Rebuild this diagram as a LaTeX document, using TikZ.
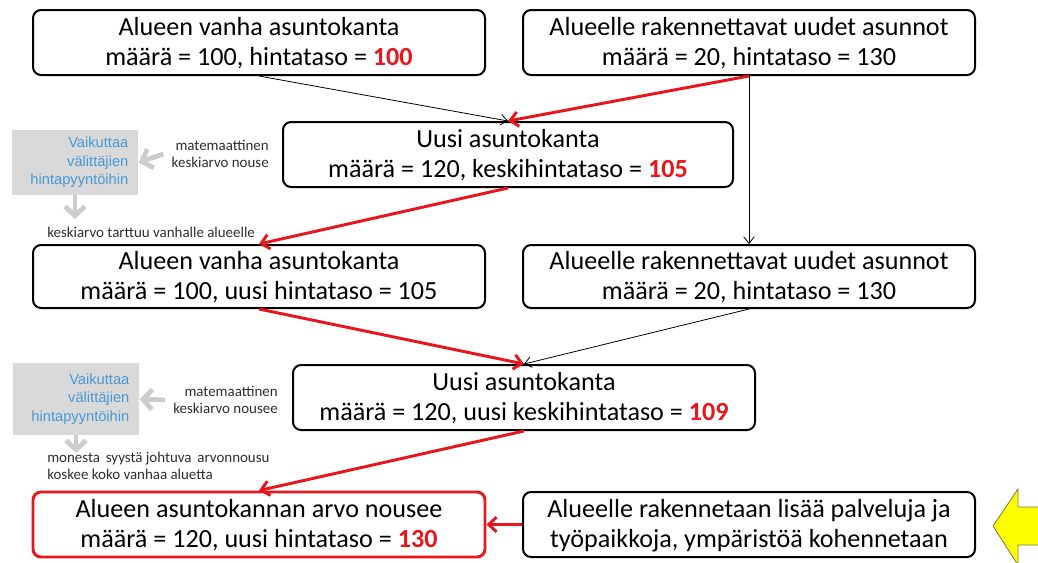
\documentclass[tikz,border=0pt]{standalone}
\usepackage{fontspec}
\setmainfont{Carlito}
\newfontfamily\arialfont{Liberation Sans}
\usetikzlibrary{arrows.meta}
\definecolor{hotred}{RGB}{232,22,28}
\definecolor{hintblue}{RGB}{72,152,212}
\definecolor{panelgrey}{RGB}{217,217,217}
\definecolor{hintarrow}{RGB}{204,204,204}
\definecolor{notegrey}{RGB}{45,45,45}
\definecolor{signyellow}{RGB}{255,255,0}
\definecolor{signedge}{RGB}{120,120,60}
\tikzset{
  stockbox/.style={draw=black, line width=1.5pt, rounded corners=6pt, align=center,
    inner sep=0pt, minimum width=339pt, minimum height=48.75pt,
    text height=33.75pt, text depth=0pt,
    font=\fontsize{19.6}{22.5}\selectfont},
  resultbox/.style={stockbox, draw=hotred, line width=2.2pt},
  hintbox/.style={fill=panelgrey, align=right, inner xsep=7.5pt, inner ysep=0pt,
    text width=80pt, minimum height=48.75pt, text=hintblue,
    font=\arialfont\fontsize{11}{13.9}\selectfont},
  note/.style={text=notegrey, inner sep=0pt, font=\fontsize{11.2}{12.8}\selectfont},
  thinflow/.style={draw=black, line width=0.6pt, -{Straight Barb[length=5pt,width=8pt]}},
  hotflow/.style={draw=hotred, line width=2.2pt, -{Straight Barb[length=6pt,width=11pt]}},
  hintflow/.style={draw=hintarrow, line width=3.6pt, -{Straight Barb[length=7pt,width=15pt]}}
}
\begin{document}
\begin{tikzpicture}[x=0.75pt, y=-0.75pt]
\useasboundingbox (0,0) rectangle (1038,562);

% stock and price boxes
\node[stockbox] (oldA) at (259,42.5) {Alueen vanha asuntokanta\\määrä = 100, hintataso = \textcolor{hotred}{\bfseries 100}};
\node[stockbox] (newA) at (749,42.5) {Alueelle rakennettavat uudet asunnot\\määrä = 20, hintataso = 130};
\node[stockbox, minimum width=337.5pt] (mixA) at (508,154.5) {Uusi asuntokanta\\määrä = 120, keskihintataso = \textcolor{hotred}{\bfseries 105}};
\node[stockbox, minimum height=47.25pt] (oldB) at (259,276.5) {Alueen vanha asuntokanta\\määrä = 100, uusi hintataso = 105};
\node[stockbox, minimum height=47.25pt] (newB) at (749,276.5) {Alueelle rakennettavat uudet asunnot\\määrä = 20, hintataso = 130};
\node[stockbox, minimum width=346.5pt] (mixB) at (524,397.5) {Uusi asuntokanta\\määrä = 120, uusi keskihintataso = \textcolor{hotred}{\bfseries 109}};
\node[resultbox] (rise) at (259,524.5) {Alueen asuntokannan arvo nousee\\määrä = 120, uusi hintataso = \textcolor{hotred}{\bfseries 130}};
\node[stockbox] (serv) at (749,524.5) {Alueelle rakennetaan lisää palveluja ja\\työpaikkoja, ympäristöä kohennetaan};

% broker hint panels
\node[hintbox] (hintA) at (75,162.5) {Vaikuttaa\\välittäjien\\hintapyyntöihin};
\node[hintbox, minimum height=54pt] (hintB) at (76,399) {Vaikuttaa\\välittäjien\\hintapyyntöihin};

% side notes
\node[note, align=right, anchor=east] (avgA) at (269,154) {matemaattinen\\keskiarvo nouse};
\node[note, align=right, anchor=east] (avgB) at (278,400) {matemaattinen\\keskiarvo nousee};
\node[note, anchor=west] (stick) at (47,232) {keskiarvo tarttuu vanhalle alueelle};
\node[note, anchor=north west, align=left] (cause) at (47,452) {monesta\, syystä johtuva\, arvonnousu\\koskee koko vanhaa aluetta};

\coordinate (hintAend) at (75,219);
\coordinate (hintBend) at (76,453);

% grey hint arrows
\draw[hintflow] (avgA.west) ++(-8,0) -- (hintA.east);
\draw[hintflow] (avgB.west) ++(-8,0) -- (hintB.east);
\draw[hintflow] (hintA.south) -- (hintAend);
\draw[hintflow] (hintB.south) -- (hintBend);

% flows between boxes
\draw[thinflow] (oldA.south) -- (mixA.north);
\draw[hotflow] (newA.south) -- (mixA.north);
\draw[thinflow] (newA.south) -- (newB.north);
\draw[hotflow] (mixA.south) -- (oldB.north);
\draw[hotflow] (oldB.south) -- (mixB.north);
\draw[thinflow] (newB.south) -- (mixB.north);
\draw[hotflow] (mixB.south) -- (rise.north);
\draw[hotflow] (serv.west) -- (rise.east);

% yellow pointer entering from the right
\begin{scope}
\clip (0,0) rectangle (1038,562);
\draw[fill=signyellow, draw=signedge, line width=0.6pt]
  (993,526) -- (1018,489) -- (1018,507) -- (1050,507) -- (1050,545)
  -- (1018,545) -- (1018,565) -- cycle;
\end{scope}
\end{tikzpicture}
\end{document}
